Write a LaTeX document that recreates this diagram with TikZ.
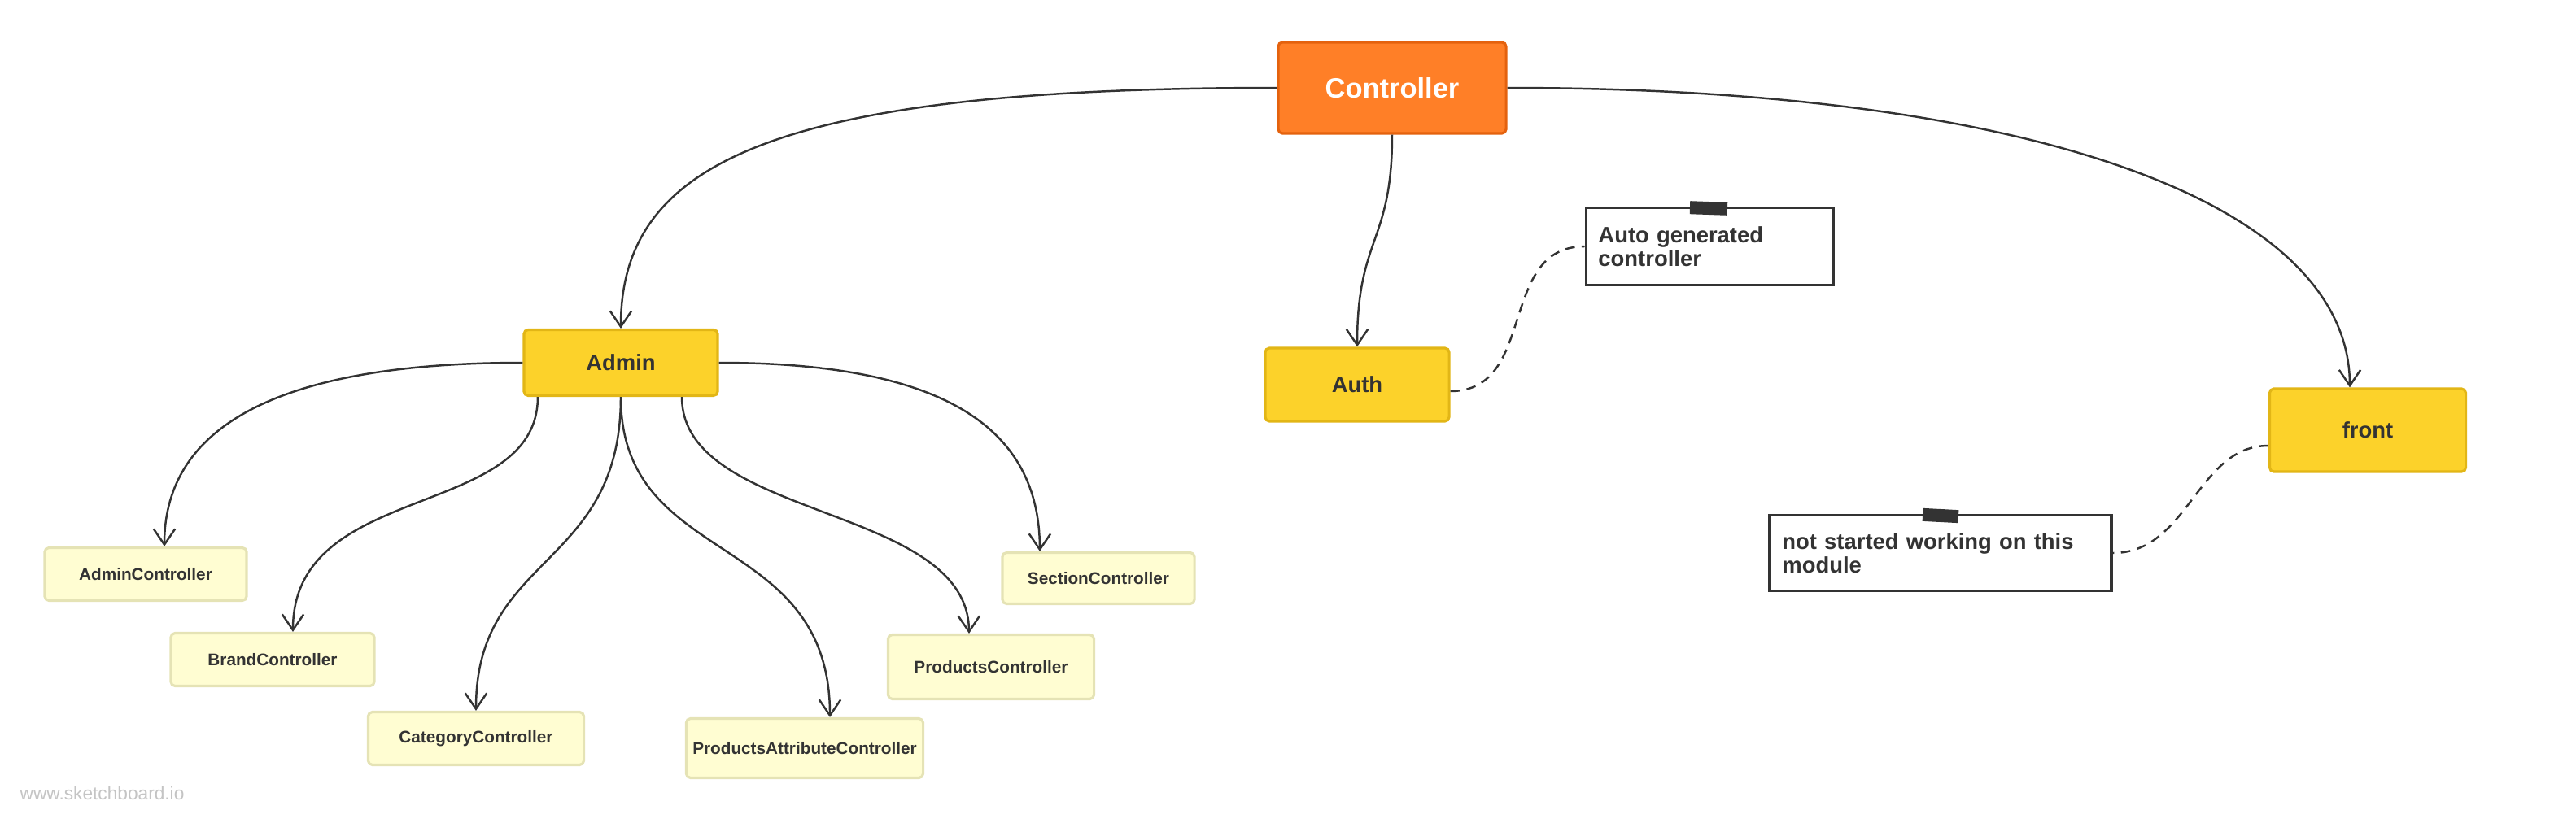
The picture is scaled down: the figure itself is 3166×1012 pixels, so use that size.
\documentclass[tikz,border=0pt]{standalone}
\usepackage{fontspec}
\setmainfont{Liberation Sans}
\usetikzlibrary{arrows.meta}
\definecolor{orangefill}{HTML}{FF7F27}
\definecolor{orangeline}{HTML}{E4620E}
\definecolor{yelfill}{HTML}{FCD22A}
\definecolor{yelline}{HTML}{E2B616}
\definecolor{leaffill}{HTML}{FFFDD2}
\definecolor{leafline}{HTML}{E5E3B5}
\definecolor{ink}{HTML}{333333}
\definecolor{wmark}{HTML}{C4C4C4}
\begin{document}
\begin{tikzpicture}[x=0.01cm,y=-0.01cm,
  ctrlbox/.style={draw=orangeline, fill=orangefill, line width=0.9pt, rounded corners=1.5pt,
    text=white, font=\fontsize{9.8}{11}\selectfont\bfseries, inner sep=0pt,
    minimum width=2.8cm, minimum height=1.12cm},
  modbox/.style={draw=yelline, fill=yelfill, line width=0.9pt, rounded corners=1.5pt,
    text=ink, font=\fontsize{7.8}{9}\selectfont\bfseries, inner sep=0pt},
  leafbox/.style={draw=leafline, fill=leaffill, line width=0.9pt, rounded corners=1.5pt,
    text=ink, font=\fontsize{5.9}{7}\selectfont\bfseries, inner sep=0pt},
  notebox/.style={draw=ink, fill=white, line width=1.1pt, text=ink, align=left,
    font=\fontsize{7.8}{8.4}\selectfont\bfseries, inner xsep=0.15cm, inner ysep=0pt},
  conn/.style={draw=ink, line width=0.7pt, -{Straight Barb[length=5.5pt,width=7.5pt]}},
  dashconn/.style={draw=ink, line width=0.7pt, dash pattern=on 3.3pt off 2.4pt},
  tape/.style={fill=ink}
]
\useasboundingbox (0,0) rectangle (3166,1012);

% main nodes
\node[ctrlbox] (ctrl) at (1711,108) {Controller};
\node[modbox, minimum width=2.38cm, minimum height=0.81cm] (admin) at (763,446) {Admin};
\node[modbox, minimum width=2.26cm, minimum height=0.90cm] (auth) at (1668,473) {Auth};
\node[modbox, minimum width=2.41cm, minimum height=1.02cm] (front) at (2910,529) {front};

% leaf nodes
\node[leafbox, minimum width=2.48cm, minimum height=0.65cm] (adminc) at (179,706) {AdminController};
\node[leafbox, minimum width=2.50cm, minimum height=0.65cm] (brandc) at (335,811) {BrandController};
\node[leafbox, minimum width=2.65cm, minimum height=0.65cm] (catc) at (585,908) {CategoryController};
\node[leafbox, minimum width=2.91cm, minimum height=0.73cm] (pac) at (989,920) {ProductsAttributeController};
\node[leafbox, minimum width=2.53cm, minimum height=0.79cm] (prodc) at (1218,820) {ProductsController};
\node[leafbox, minimum width=2.36cm, minimum height=0.63cm] (secc) at (1350,711) {SectionController};

% notes
\node[notebox, text width=2.73cm, minimum height=0.95cm] (note1) at (2101,303) {Auto generated\\controller};
\node[notebox, text width=3.89cm, minimum height=0.93cm] (note2) at (2385,680) {not started working on this\\module};
\fill[tape, rotate around={-2:(2100,256)}] (2077,248) rectangle (2123,264);
\fill[tape, rotate around={-3:(2385,634)}] (2363,626) rectangle (2407,642);

% connectors from Controller
\draw[conn] (ctrl.west) .. controls (950,108) and (763,200) .. (admin.north);
\draw[conn] (ctrl.south) .. controls (1711,300) and (1668,290) .. (auth.north);
\draw[conn] (ctrl.east) .. controls (2500,108) and (2888,250) .. ([xshift=-0.22cm]front.north);

% connectors from Admin
\draw[conn] (admin.west) .. controls (350,446) and (202,520) .. ([xshift=0.23cm]adminc.north);
\draw[conn] ([xshift=-1.02cm]admin.south) .. controls (661,640) and (360,590) .. ([xshift=0.25cm]brandc.north);
\draw[conn] (admin.south) .. controls (763,700) and (585,680) .. (catc.north);
\draw[conn] (admin.south) .. controls (763,700) and (1020,650) .. ([xshift=0.31cm]pac.north);
\draw[conn] ([xshift=0.75cm]admin.south) .. controls (838,640) and (1190,620) .. ([xshift=-0.27cm]prodc.north);
\draw[conn] (admin.east) .. controls (1150,446) and (1278,520) .. ([xshift=-0.72cm]secc.north);

% dashed note links
\draw[dashconn] ([yshift=-0.08cm]auth.east) .. controls (1890,481) and (1840,303) .. (note1.west);
\draw[dashconn] ([yshift=-0.19cm]front.west) .. controls (2700,548) and (2690,680) .. (note2.east);

% watermark
\node[anchor=west, text=wmark, font=\fontsize{6.45}{7}\selectfont, inner sep=0pt] (wm) at (24,975) {www.sketchboard.io};
\end{tikzpicture}
\end{document}
